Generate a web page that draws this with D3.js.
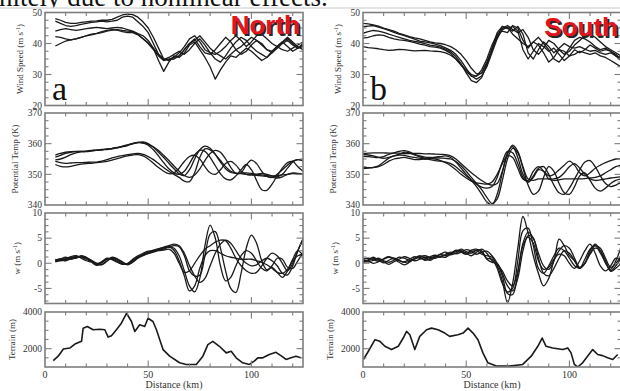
<!DOCTYPE html>
<html>
<head>
<meta charset="utf-8">
<script src="https://cdn.jsdelivr.net/npm/d3@7"></script>
<style>
  body { margin: 0; background: #fff; }
  svg { display: block; }
  .serif { font-family: "Liberation Serif", "Times New Roman", Times, "DejaVu Serif", serif; }
  .sans { font-family: "Liberation Sans", Arial, Helvetica, sans-serif; }
</style>
</head>
<body>
<svg id="fig" width="620" height="391"></svg>
<script>
// ---- distance grids (km) ----
const kmNorth = [5, 7.5, 10, 12.5, 15, 17.5, 20, 22.5, 25, 27.5, 30, 32.5, 35, 37.5, 40, 42.5, 45, 47.5, 50, 52.5,
  55, 57.5, 60, 62.5, 65, 67.5, 70, 72.5, 75, 77.5, 80, 82.5, 85, 87.5, 90, 92.5, 95, 97.5, 100, 102.5,
  105, 107.5, 110, 112.5, 115, 117.5, 120, 122.5, 125];
const kmSouth = [0, 2.5, 5, 7.5, 10, 12.5, 15, 17.5, 20, 22.5, 25, 27.5, 30, 32.5, 35, 37.5, 40, 42.5, 45, 47.5, 50, 52.5,
  55, 57.5, 60, 62.5, 65, 67.5, 70, 72.5, 75, 77.5, 80, 82.5, 85, 87.5, 90, 92.5, 95, 97.5, 100, 102.5,
  105, 107.5, 110, 112.5, 115, 117.5, 120, 122.5, 125];

// ---- North transect: wind speed (m/s), one row per flight leg ----
const windNorth = [
  [48,47.5,46.8,46.5,46.5,46.8,47,47.2,47.3,47.5,47.5,47.8,48.5,49.2,49.5,49.3,48.5,47,45,42,38.5,35,34.5,35.5,36,38,40,41.5,39,37,36.5,38,40,42,40.5,38,36.5,37.5,39.5,41,40,38,37,38.5,40,41,39.5,38.5,39.5],
  [47.2,46.5,45.8,45.5,45.8,46.2,46.5,46.8,47,47.2,47,47.2,47.5,48.5,48.8,48.5,47,45.5,43.5,40,36.5,34.8,35.5,36.5,37.5,36.5,38,40,41.5,39.5,37,35,34,36,38.5,40.5,42,41,39,37.5,36.5,35.5,37,39,40.5,39,37.5,38.5,40],
  [44,44.5,44.8,44.5,44.2,44.5,44.8,45,45.2,45,44.8,45,45.2,45,44.5,44,43.2,42.5,41,38.5,34.5,31,34,36,35.5,37,39.5,40.5,38,35.5,32.5,28.5,31.5,34,36,35.5,37,38.5,37.5,36,34.5,35.5,37.5,39,40.5,41.5,40,38.5,39],
  [42.2,42,41.5,41.2,41.5,42,42.5,42.8,43.2,43.5,44,44.3,44.5,44.2,44,43.8,43,41.5,40,38,36,34.5,35,35.5,37,39,41.5,42.5,40.5,38,37,36.5,37.5,39,41,42.5,41,39,40.5,42.5,43,41.5,40,39,38,37.5,38.5,39.5,40.5],
  [39.2,40,40.8,41.2,41.5,42,42.5,43,43.3,43.8,44.2,44.5,44.3,43.8,43.5,43.5,42.8,41.5,40.2,38.5,36.5,35,34.8,35,36,38,40,41,42.5,40.5,38.5,37,36,35,36.5,38,39,40.5,42,41,39.5,38,37.5,39,40.5,42,40.5,39,38]
];

// ---- North transect: potential temperature (K) ----
const thetaNorth = [
  [356.3,356.8,357.2,357.4,357.5,357.5,357.6,357.8,357.9,358.1,358.2,358.4,358.7,359.0,359.4,359.9,360.4,360.6,360.0,358.8,357.2,355.5,353.6,351.8,350.2,349.6,351.5,355.0,358.0,359.2,358.5,356.5,354.0,351.8,350.6,350.3,350.4,350.5,350.3,350.0,349.8,349.6,349.5,349.6,349.8,350.0,350.2,350.1,350.0],
  [355.6,356.2,356.8,357.2,357.4,357.5,357.5,357.7,357.9,358.0,358.2,358.5,358.8,359.2,359.6,360.1,360.4,360.3,359.8,359.0,357.8,356.2,354.5,352.7,351.0,349.6,349.0,349.8,351.8,354.5,356.8,357.8,357.2,355.0,352.3,350.3,350.5,353.0,354.6,353.5,351.0,349.3,349.0,350.0,351.5,353.0,354.3,354.8,354.5],
  [354.7,355.0,355.6,356.4,357.0,357.3,357.4,357.6,357.8,358.0,358.1,358.3,358.6,359.0,359.5,360.0,360.3,360.2,359.5,358.0,356.0,353.8,351.8,350.5,350.0,351.0,353.5,356.3,357.8,357.5,355.5,352.8,350.2,348.5,348.2,349.5,351.5,353.2,351.5,348.0,345.0,344.8,346.8,349.5,352.0,353.8,354.2,352.5,351.0],
  [354.2,353.8,353.6,353.7,353.8,353.8,353.9,354.0,354.0,354.3,354.8,355.4,355.8,356.1,356.4,356.7,356.8,356.5,355.8,354.8,353.5,352.2,351.0,350.0,349.0,347.8,347.6,350.5,355.5,358.3,358.0,356.5,354.5,352.5,351.0,350.4,350.2,350.0,349.8,349.7,349.5,349.3,349.0,348.8,349.2,350.0,350.5,350.3,350.0],
  [353.2,352.6,352.4,352.6,353.0,353.3,353.5,353.6,353.8,354.0,354.2,354.6,355.1,355.6,356.0,356.3,356.4,356.0,355.0,353.6,352.2,351.0,350.2,350.5,352.0,354.2,355.8,356.2,355.0,352.5,350.5,350.0,351.5,353.5,354.2,353.0,351.0,350.0,349.8,350.0,350.3,350.0,349.5,349.2,350.0,352.0,354.0,354.8,354.5]
];

// ---- North transect: vertical velocity w (m/s) ----
const wNorth = [
  [0.6,0.9,0.7,1.0,1.4,1.2,0.8,0.3,-0.2,0.1,0.8,1.0,0.6,0.0,-0.2,0.5,1.3,1.8,2.2,2.6,2.9,3.1,3.3,3.0,1.5,-1.5,-4.5,-5.7,-3.0,3.5,7.6,5.0,-0.5,-3.5,-2.8,-0.5,1.5,2.5,2.0,0.5,-1.0,-1.5,-0.5,1.0,0.8,-0.8,-1.0,0.5,2.0],
  [0.3,0.6,1.0,1.2,1.0,1.5,1.2,0.5,-0.3,-0.2,0.5,1.2,0.8,0.2,-0.3,0.2,1.0,1.5,2.0,2.3,2.7,3.0,3.2,3.5,3.3,1.5,-1.5,-2.5,-2.4,1.5,5.8,6.3,3.0,-1.5,-5.0,-5.8,-2.0,3.0,5.6,4.0,0.5,-1.3,-0.8,-1.8,-2.8,-1.5,0.8,2.5,1.5],
  [0.8,0.5,0.8,1.3,1.5,1.0,0.5,0.2,-0.4,0.3,1.0,0.7,0.2,-0.2,0.0,0.8,1.5,2.0,2.4,2.5,2.8,3.2,3.5,3.8,3.5,2.0,-0.5,-2.5,-3.8,-3.0,-0.5,2.0,3.8,4.6,4.0,2.5,1.0,0.0,-0.5,-0.3,0.5,1.0,0.5,-0.5,-2.0,-2.3,-0.5,2.5,4.8],
  [0.5,0.7,0.5,0.9,1.2,1.3,1.0,0.4,0.0,0.3,0.9,0.8,0.4,-0.1,-0.1,0.6,1.2,1.7,2.1,2.4,2.6,2.8,3.2,2.6,0.5,-2.5,-5.5,-4.5,-1.0,1.5,2.5,2.5,2.0,1.5,1.2,1.0,0.8,0.8,0.8,0.5,0.2,-0.3,-1.0,-1.8,-2.0,-1.2,0.5,1.5,1.8],
  [0.4,0.8,1.2,0.8,1.1,1.4,1.1,0.6,0.0,-0.3,0.4,1.1,0.9,0.3,-0.2,0.3,1.1,1.6,1.9,2.2,2.5,2.6,2.8,2.0,0.0,-1.8,-1.5,0.0,1.5,2.8,3.5,4.2,4.6,4.5,3.0,1.0,-0.5,-1.5,-2.0,-1.8,-0.5,1.0,2.0,1.5,0.0,-1.5,0.0,2.5,4.8]
];

// ---- North transect: terrain height (m) ----
const terrainKmNorth = [4.0,6.4,8.9,12.1,14.5,17.7,18.5,20.5,23.3,26.6,29.0,30.6,32.2,34.6,37.0,39.5,41.9,43.5,45.9,48.3,49.9,52.3,54.0,55.6,57.2,60.4,65.2,68.4,73.3,76.5,78.9,81.3,84.5,87.8,90.2,92.6,95.8,99.0,101.4,103.1,105.5,108.7,111.9,114.3,116.8,119.2,121.6,124.0];
const terrainNorth = [1350,1590,1980,2040,2250,2400,3120,3210,3030,3060,3030,2630,2700,3030,3390,3930,3480,2940,3300,3210,3660,3480,3030,2490,1950,1590,1230,1140,1140,1590,2220,2400,2130,1770,1860,1500,1230,1140,1320,1500,1500,1680,1800,1620,1410,1500,1590,1500];

// ---- South transect: wind speed (m/s) ----
const windSouth = [
  [46.5,46.3,46.0,45.6,45.0,44.5,44.0,43.3,42.8,42.2,41.8,41.5,41.0,40.5,40.2,40.0,39.6,39.0,38.0,36.5,34.5,32.0,30.2,30.5,33.5,38.0,42.5,45.5,45.0,44.0,45.5,43.0,37.0,35.0,38.0,40.5,39.0,37.0,38.5,40.0,39.0,38.5,39.0,38.2,37.5,37.8,37.0,36.5,37.0,36.0,35.5],
  [45.4,45.6,45.8,45.3,44.8,44.2,43.6,43.0,42.5,42.0,41.4,40.8,40.5,40.2,39.8,39.3,38.6,37.8,36.5,34.5,32.0,29.5,28.5,29.5,32.5,37.0,41.5,44.8,45.8,44.5,43.5,44.5,42.0,38.0,36.5,38.5,41.0,40.0,38.0,36.5,37.5,39.5,41.0,42.5,43.0,42.0,40.5,39.0,38.0,37.0,36.0],
  [43.3,43.8,44.2,44.0,43.6,43.0,42.5,42.0,41.5,41.0,40.7,40.4,40.0,39.5,39.2,38.8,38.2,37.3,35.8,33.5,30.5,28.0,27.4,29.0,33.0,38.5,43.5,45.5,44.8,45.5,44.0,38.0,35.0,37.5,40.0,39.0,37.5,38.5,36.5,34.5,36.0,38.0,37.0,38.0,39.5,38.5,37.5,38.0,37.5,36.0,34.5],
  [41.7,42.0,42.5,42.8,42.6,42.0,41.5,41.2,41.0,40.7,40.3,39.8,39.5,39.0,38.8,38.5,37.8,36.8,35.0,33.0,31.0,29.5,29.5,31.5,35.0,39.5,43.0,44.0,43.5,45.8,45.0,41.0,38.5,40.5,42.0,40.0,38.0,35.0,34.0,36.0,38.5,41.0,42.0,41.5,40.5,39.0,38.0,38.5,37.5,36.5,35.0],
  [39.0,38.7,38.5,38.3,38.0,37.8,37.9,38.1,38.0,37.8,37.6,37.7,37.8,37.6,37.5,37.4,37.0,36.2,35.0,33.2,31.5,30.0,29.5,30.5,34.0,38.0,42.0,44.5,45.3,43.0,41.5,40.0,39.0,40.5,39.5,37.0,34.0,35.5,38.0,37.5,36.0,36.5,37.5,37.0,36.5,37.0,36.0,35.5,34.5,33.5,32.5]
];

// ---- South transect: potential temperature (K) ----
const thetaSouth = [
  [356.8,356.9,357.0,357.0,357.0,356.9,356.9,356.9,356.8,356.8,356.8,356.8,356.7,356.7,356.6,356.5,356.4,356.0,355.0,353.5,352.0,350.5,349.2,348.0,347.0,346.5,347.0,351.0,356.5,359.5,357.5,352.5,348.5,348.0,348.5,348.5,348.5,348.5,349.0,350.5,352.5,353.5,352.0,350.0,348.5,348.0,348.2,348.5,348.8,349.0,349.2],
  [355.9,355.8,355.6,355.5,355.8,356.5,357.0,357.5,357.7,357.3,356.5,356.0,355.6,355.5,355.4,355.3,355.2,355.0,354.2,352.8,351.0,349.0,347.0,345.0,342.5,340.5,342.0,348.0,355.0,358.5,357.0,352.0,346.5,343.5,344.5,349.0,352.5,351.0,347.0,344.0,343.5,346.0,349.5,350.5,348.0,345.5,344.5,345.5,347.0,348.0,348.5],
  [352.2,352.2,352.3,352.8,354.0,355.3,356.0,356.5,357.2,357.0,356.3,355.7,355.2,354.8,354.5,354.3,354.0,353.5,352.5,351.0,349.5,348.0,346.0,343.5,341.0,340.0,343.5,350.5,357.0,359.0,355.5,350.0,347.5,349.5,352.0,352.5,350.0,346.5,344.0,343.5,345.5,348.5,351.5,354.0,354.5,352.5,349.5,347.0,346.0,346.5,347.5],
  [351.9,352.0,352.2,352.5,353.2,354.3,355.0,355.3,355.5,355.2,354.8,354.8,355.0,355.2,355.0,354.5,353.8,352.8,351.5,350.0,348.8,347.8,347.2,347.0,346.8,347.5,350.0,353.5,356.0,355.5,352.0,348.5,348.0,351.0,352.5,351.0,348.5,348.0,348.2,348.5,348.5,348.5,348.5,348.6,348.8,349.0,349.5,350.5,351.5,352.5,353.0],
  [356.5,356.3,356.0,355.5,355.2,355.5,356.0,356.3,356.2,355.8,355.5,355.3,355.0,355.3,355.6,355.8,356.0,355.5,354.0,352.0,350.0,348.2,346.8,345.8,345.5,346.0,349.0,354.0,357.5,357.0,353.5,349.0,347.5,349.0,351.5,351.0,349.5,350.0,351.5,353.0,354.3,353.0,350.5,349.5,350.5,352.0,353.0,353.8,354.5,355.0,355.0]
];

// ---- South transect: vertical velocity w (m/s) ----
const wSouth = [
  [0.5,0.3,0.6,1.0,0.5,0.2,0.6,1.2,1.0,0.6,0.8,1.3,1.5,1.2,1.0,1.4,1.6,2.0,2.5,2.2,1.8,2.3,2.5,1.8,1.5,1.2,-0.5,-3.5,-7.8,-4.0,3.0,9.3,6.0,1.5,-2.0,-4.5,-3.0,0.5,2.5,3.5,3.0,1.0,-0.8,0.0,2.5,3.8,2.5,0.0,-1.2,0.5,3.2],
  [0.8,1.0,0.7,0.4,0.8,1.2,1.0,0.5,0.3,0.8,1.3,1.0,0.8,1.3,1.6,1.3,1.2,1.8,2.6,2.4,2.0,2.6,2.8,2.2,1.0,0.8,-1.0,-4.0,-5.7,-5.0,0.5,6.5,7.0,3.5,-1.0,-2.0,-0.5,1.5,3.0,2.5,1.0,-0.5,-1.0,0.8,2.8,3.5,2.0,0.2,-1.5,-0.5,1.0],
  [0.2,0.5,0.9,0.8,0.3,-0.2,0.3,0.8,1.3,1.0,0.5,0.8,1.2,1.0,1.3,1.8,1.5,1.9,2.3,2.8,2.3,2.0,2.6,2.5,0.8,0.2,0.0,-2.0,-4.5,-5.5,-3.0,2.5,5.5,5.0,1.0,-2.0,-2.5,-1.0,1.0,2.5,2.0,0.5,-1.0,0.0,2.0,3.5,3.0,1.0,-0.8,0.0,1.5],
  [0.6,0.4,0.0,0.3,0.9,1.3,0.8,0.2,-0.3,0.2,0.9,1.5,1.0,0.6,1.2,1.8,2.2,1.7,2.0,2.5,2.0,1.5,2.2,2.8,2.0,0.5,-0.3,-1.5,-3.5,-4.5,-1.5,4.0,6.2,5.0,2.0,-0.5,-1.2,0.5,4.8,3.5,1.5,0.5,-1.0,0.0,1.8,3.0,2.5,0.5,-1.6,-1.0,0.0],
  [0.3,0.7,1.2,0.6,0.1,0.6,1.0,0.6,0.2,0.4,1.0,1.2,0.6,0.8,1.5,1.2,1.8,2.2,1.9,2.2,2.7,2.4,1.8,2.2,2.4,1.5,0.0,-2.5,-6.0,-6.2,-2.0,3.5,5.2,4.0,0.5,-1.2,-0.8,0.8,1.8,1.5,0.0,-1.0,0.5,2.5,3.8,2.0,-0.5,-1.5,-0.5,1.0,0.5]
];

// ---- South transect: terrain height (m) ----
const terrainKmSouth = [0.2,2.6,5.8,8.2,10.6,13.8,17.1,19.5,21.1,22.7,25.1,27.5,30.8,33.2,36.4,39.6,42.0,46.0,48.5,50.9,53.3,55.7,58.1,60.5,64.6,71.0,77.4,81.5,84.7,86.8,88.7,91.9,96.8,99.2,100.8,102.4,104.0,106.4,108.8,111.3,113.7,116.1,118.5,121.0,123.4];
const terrainSouth = [1410,1860,2490,2400,2130,1950,2130,2580,2940,2760,1950,2670,3030,3120,3030,2850,2670,2760,2850,3120,2850,2490,1770,1230,1050,1050,1140,1590,2130,2580,2130,2040,1950,2040,1770,1140,1000,1230,1590,1950,1680,1620,1500,1410,1680];

// ---- tick labels ----
const xTickLabels = [0, 50, 100];
const windTicks = [20, 30, 40, 50];
const thetaTicks = [340, 350, 360, 370];
const wTicks = [-5, 0, 5, 10];
const terrainTicks = [2000, 4000];

// ---------------------------------------------------------------
const svg = d3.select('#fig');
const frameColor = '#7d7d7d';

// running text of the page above the figure, cut off by the frame edge
const defs = svg.append('defs');
defs.append('clipPath').attr('id', 'clip-head')
  .append('rect').attr('x', 0).attr('y', -30).attr('width', 620).attr('height', 37.5);
svg.append('text')
  .attr('class', 'serif')
  .attr('clip-path', 'url(#clip-head)')
  .attr('x', -1).attr('y', 6)
  .style('font-size', '27px')
  .attr('fill', '#111')
  .text('nitely due to nonlinear effects.');
svg.append('line').attr('x1', 0).attr('x2', 620).attr('y1', 8).attr('y2', 8)
  .attr('stroke', '#c8c8c8').attr('stroke-width', 1);

// curve: jagged wind records, smooth theta / w, raw terrain profile
const rows = [
  { top: 12.5, bottom: 105.5, domain: [20, 50], ticks: windTicks, minor: 2.5, title: ['Wind Speed (m s', '-1', ')'], titleOff: 22, curve: d3.curveLinear, width: 1.3 },
  { top: 113, bottom: 205, domain: [340, 370], ticks: thetaTicks, minor: 2.5, title: ['Potential Temp (K)'], titleOff: 27, curve: d3.curveCatmullRom.alpha(0.5), width: 1.3 },
  { top: 213, bottom: 303.5, domain: [-8, 10], ticks: wTicks, minor: 1.25, title: ['w (m s', '-1', ')'], titleOff: 25, curve: d3.curveCatmullRom.alpha(0.5), width: 1.3 },
  { top: 312, bottom: 367, domain: [1000, 4000], ticks: terrainTicks, minor: 500, title: ['Terrain (m)'], titleOff: 30, curve: d3.curveLinear, width: 1.6 }
];

const columns = [
  { id: 'n', name: 'North', letter: 'a', x0: 45, x1: 303, km: kmNorth,
    fields: [windNorth, thetaNorth, wNorth], tKm: terrainKmNorth, tVal: terrainNorth, nameY: 34 },
  { id: 's', name: 'South', letter: 'b', x0: 363, x1: 621, km: kmSouth,
    fields: [windSouth, thetaSouth, wSouth], tKm: terrainKmSouth, tVal: terrainSouth, nameY: 36 }
];

columns.forEach(col => {
  const x = d3.scaleLinear().domain([0, 125]).range([col.x0, col.x1]);

  rows.forEach((row, ri) => {
    const y = d3.scaleLinear().domain(row.domain).range([row.bottom, row.top]);
    const g = svg.append('g');
    const clipId = `clip-${col.id}-${ri}`;
    defs.append('clipPath').attr('id', clipId)
      .append('rect').attr('x', col.x0).attr('y', row.top)
      .attr('width', col.x1 - col.x0).attr('height', row.bottom - row.top);

    // data curves
    const line = d3.line().x(d => x(d[0])).y(d => y(d[1])).curve(row.curve);
    let series;
    if (ri < 3) {
      series = col.fields[ri].map(vals => vals.map((v, i) => [col.km[i], v]));
    } else {
      series = [col.tVal.map((v, i) => [col.tKm[i], v])];
    }
    g.append('g').attr('clip-path', `url(#${clipId})`)
      .selectAll('path').data(series).join('path')
      .attr('d', line)
      .attr('fill', 'none')
      .attr('stroke', '#1a1a1a')
      .attr('stroke-width', row.width)
      .attr('stroke-linejoin', 'round');

    // frame
    g.append('rect')
      .attr('x', col.x0).attr('y', row.top)
      .attr('width', col.x1 - col.x0).attr('height', row.bottom - row.top)
      .attr('fill', 'none').attr('stroke', frameColor).attr('stroke-width', 1.6);

    // x ticks (inward, top and bottom)
    const tickG = g.append('g').attr('stroke', frameColor).attr('stroke-width', 1.1);
    for (let k = 10; k <= 120; k += 10) {
      const len = k % 50 === 0 ? 6.5 : 3.5;
      const px = x(k);
      tickG.append('line').attr('x1', px).attr('x2', px).attr('y1', row.bottom).attr('y2', row.bottom - len);
      tickG.append('line').attr('x1', px).attr('x2', px).attr('y1', row.top).attr('y2', row.top + len);
    }
    // y ticks (inward, left and right)
    const [lo, hi] = row.domain;
    const start = Math.ceil(lo / row.minor) * row.minor;
    for (let v = start; v <= hi + 1e-9; v += row.minor) {
      if (Math.abs(v - lo) < 1e-9 || Math.abs(v - hi) < 1e-9) continue;
      const isMajor = row.ticks.some(t => Math.abs(t - v) < 1e-9);
      const len = isMajor ? 6.5 : 3.5;
      const py = y(v);
      tickG.append('line').attr('x1', col.x0).attr('x2', col.x0 + len).attr('y1', py).attr('y2', py);
      tickG.append('line').attr('x1', col.x1).attr('x2', col.x1 - len).attr('y1', py).attr('y2', py);
    }

    // y tick labels
    g.append('g').selectAll('text').data(row.ticks).join('text')
      .attr('class', 'serif')
      .attr('x', col.x0 - 3).attr('y', d => y(d)).attr('dy', '0.35em')
      .attr('text-anchor', 'end')
      .style('font-size', '9.5px').attr('fill', '#333')
      .text(d => String(d));

    // y axis title, rotated
    const tx = col.x0 - row.titleOff, ty = (row.top + row.bottom) / 2;
    const title = g.append('text')
      .attr('class', 'serif')
      .attr('transform', `translate(${tx},${ty}) rotate(-90)`)
      .attr('text-anchor', 'middle')
      .style('font-size', '9px').attr('fill', '#333');
    title.append('tspan').text(row.title[0]);
    if (row.title.length > 1) {
      title.append('tspan').attr('dy', -3).style('font-size', '6px').text(row.title[1]);
      title.append('tspan').attr('dy', 3).text(row.title[2]);
    }
  });

  // distance axis labels under the terrain panel
  const last = rows[3];
  svg.append('g').selectAll('text').data(xTickLabels).join('text')
    .attr('class', 'serif')
    .attr('x', d => x(d)).attr('y', last.bottom + 11)
    .attr('text-anchor', 'middle')
    .style('font-size', '10px').attr('fill', '#333')
    .text(d => String(d));
  svg.append('text')
    .attr('class', 'serif')
    .attr('x', (col.x0 + col.x1) / 2).attr('y', last.bottom + 21)
    .attr('text-anchor', 'middle')
    .style('font-size', '10px').attr('fill', '#333')
    .text('Distance (km)');

  // panel letter
  svg.append('text')
    .attr('class', 'serif')
    .attr('x', col.x0 + 7).attr('y', 100)
    .style('font-size', '34px').attr('fill', '#111')
    .text(col.letter);

  // transect name with drop shadow
  [['#262626', 1.8], ['#e3141c', 0]].forEach(([fill, off]) => {
    svg.append('text')
      .attr('class', 'sans')
      .attr('x', col.x1 - 3 + off).attr('y', col.nameY + off)
      .attr('text-anchor', 'end')
      .style('font-weight', 'bold').style('font-size', '26px')
      .attr('fill', fill)
      .text(col.name);
  });
});
</script>
</body>
</html>
